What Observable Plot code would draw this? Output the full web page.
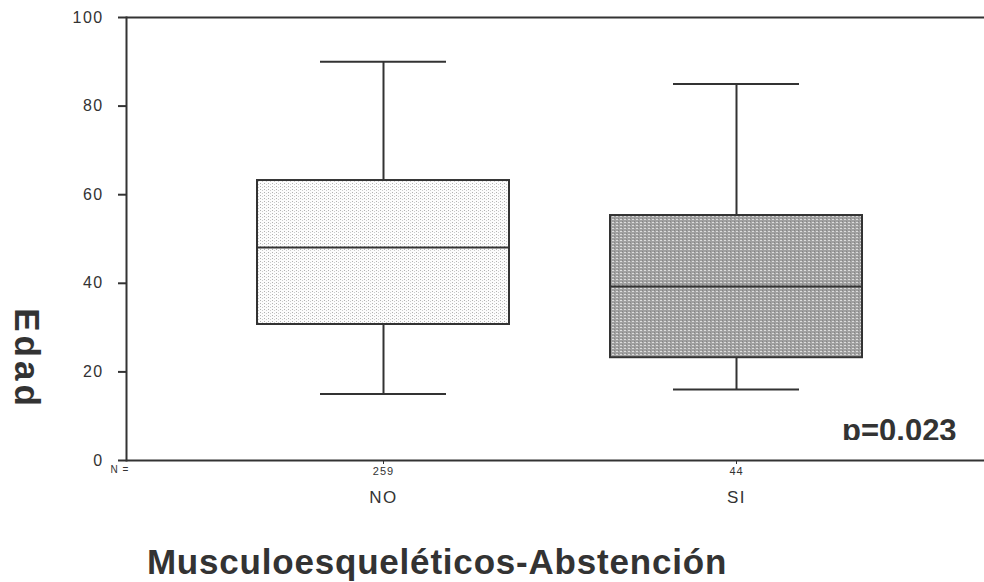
<!DOCTYPE html>
<html>
<head>
<meta charset="utf-8">
<script src="https://cdn.jsdelivr.net/npm/d3@7"></script>
<script src="https://cdn.jsdelivr.net/npm/@observablehq/plot@0.6"></script>
<style>
  body { margin: 0; background: #fff; font-family: "Liberation Sans", Arial, sans-serif; }
  #wrap { position: relative; width: 984px; height: 582px; }
  #title {
    position: absolute; left: 0; top: 542px; width: 874px; text-align: center;
    font-size: 35px; font-weight: bold; letter-spacing: 0.8px; color: #333;
    line-height: 40px; white-space: nowrap;
  }
  #pval {
    position: absolute; left: 842px; top: 413px; height: 27px; overflow: hidden;
    font-size: 31px; font-weight: bold; color: #333; line-height: 36px;
  }
  .ylab text { letter-spacing: 1.4px; }
  .nlab text { letter-spacing: 1px; }
  .catlab text { letter-spacing: 1.5px; }
  .edad text { letter-spacing: 4px; }
</style>
</head>
<body>
<div id="wrap">
  <div id="chart"></div>
  <div id="pval">p=0.023</div>
  <div id="title">Musculoesqueléticos-Abstención</div>
</div>
<script>
// Age distribution (Edad) by musculoskeletal absence group
const categories = ["NO", "SI"];
const nCounts = [259, 44];
const whiskerLow = [15, 16];
const quartile1 = [30.7, 23.2];
const medians = [48.1, 39.3];
const quartile3 = [63.2, 55.3];
const whiskerHigh = [90, 85];
const yTicks = [0, 20, 40, 60, 80, 100];

const rows = categories.map((c, i) => ({
  cat: c,
  n: nCounts[i],
  lo: whiskerLow[i],
  q1: quartile1[i],
  med: medians[i],
  q3: quartile3[i],
  hi: whiskerHigh[i]
}));
const nByCat = Object.fromEntries(rows.map(d => [d.cat, d.n]));

const ink = "#333";

const plot = Plot.plot({
  width: 984,
  height: 520,
  marginTop: 17,
  marginLeft: 126,
  marginRight: 0,
  marginBottom: 60,
  style: { fontFamily: "'Liberation Sans', Arial, sans-serif", color: ink, background: "#fff" },
  x: { type: "band", domain: categories, paddingInner: 0.285, paddingOuter: 0.355, align: 0.52, axis: null },
  y: { domain: [0, 100], axis: null },
  color: { type: "ordinal", domain: categories, range: ["url(#dotsLight)", "url(#dotsDark)"] },
  marks: [
    // whiskers
    Plot.ruleX(rows, { x: "cat", y1: "lo", y2: "q1", stroke: ink, strokeWidth: 2 }),
    Plot.ruleX(rows, { x: "cat", y1: "q3", y2: "hi", stroke: ink, strokeWidth: 2 }),
    Plot.tickY(rows, { x: "cat", y: "lo", stroke: ink, strokeWidth: 2, insetLeft: 63, insetRight: 63 }),
    Plot.tickY(rows, { x: "cat", y: "hi", stroke: ink, strokeWidth: 2, insetLeft: 63, insetRight: 63 }),
    // boxes
    Plot.barY(rows, { x: "cat", y1: "q1", y2: "q3", fill: "cat", stroke: ink, strokeWidth: 2 }),
    Plot.tickY(rows, { x: "cat", y: "med", stroke: ink, strokeWidth: 2 }),
    // frame: left, top and bottom lines
    Plot.frame({ anchor: "left", stroke: ink, strokeWidth: 2 }),
    Plot.ruleY([0, 100], { stroke: ink, strokeWidth: 2 }),
    // y axis
    Plot.axisY({ ticks: yTicks, tickSize: 8, tickPadding: 15, fontSize: 16, stroke: ink, strokeWidth: 2, label: null, className: "ylab" }),
    Plot.text(["Edad"], {
      frameAnchor: "left", textAnchor: "middle", dx: -100, dy: 120, rotate: 90,
      fontSize: 35, fontWeight: "bold", fill: ink, className: "edad"
    }),
    // x axis: group sizes and category names
    Plot.axisX({ tickSize: 4, tickPadding: 3, fontSize: 11, tickFormat: d => nByCat[d], stroke: ink, label: null, className: "nlab" }),
    Plot.axisX({ tickSize: 0, tickPadding: 30, fontSize: 17, label: null, className: "catlab" }),
    Plot.text(["N ="], { frameAnchor: "bottom-left", dx: -16, dy: 12, fontSize: 10, fill: ink, className: "nlab" })
  ]
});

plot.insertAdjacentHTML("afterbegin", `
<defs>
  <pattern id="dotsLight" width="4" height="3" patternUnits="userSpaceOnUse">
    <rect width="4" height="3" fill="#fcfcfc"/>
    <rect x="0" y="0" width="1" height="1" fill="#b0b0b0"/>
    <rect x="2" y="1" width="1" height="1" fill="#cccccc"/>
  </pattern>
  <pattern id="dotsDark" width="4" height="3" patternUnits="userSpaceOnUse">
    <rect width="4" height="3" fill="#a0a0a0"/>
    <rect x="0" y="0" width="2" height="1" fill="#dcdcdc"/>
    <rect x="2" y="2" width="1" height="1" fill="#858585"/>
  </pattern>
</defs>`);

document.getElementById("chart").appendChild(plot);
</script>
</body>
</html>
